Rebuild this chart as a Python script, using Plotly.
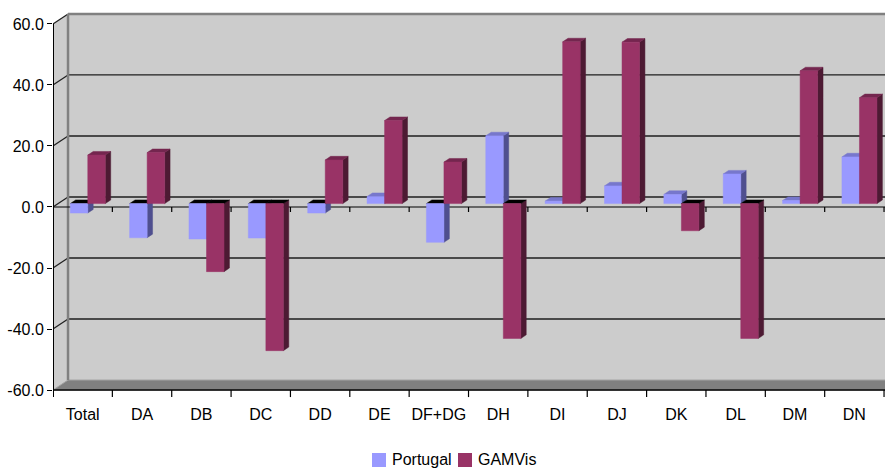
import plotly.graph_objects as go

# ---- data -------------------------------------------------------------
categories = ["Total", "DA", "DB", "DC", "DD", "DE", "DF+DG", "DH",
              "DI", "DJ", "DK", "DL", "DM", "DN"]
portugal = [-3.1, -11.2, -11.6, -11.3, -3.1, 2.3, -12.7, 22.2,
            0.8, 5.8, 3.0, 9.7, 1.0, 15.3]
gamvis = [15.9, 16.7, -22.3, -48.2, 14.3, 27.2, 13.6, -44.2,
          53.0, 52.9, -8.9, -44.2, 43.5, 34.7]
series_names = ["Portugal", "GAMVis"]
y_ticks = [-60, -40, -20, 0, 20, 40, 60]
y_tick_labels = [f"{t:.1f}" for t in y_ticks]

# ---- style ------------------------------------------------------------
FONT = "Liberation Sans, Arial, sans-serif"
FONT_SIZE = 15
front_col = ["#9999ff", "#993366"]
side_col = ["#4f4f8f", "#4d1a33"]
top_col = ["#7777cc", "#74264f"]
WALL = "#cccccc"
FLOOR = "#808080"

W, H = 885, 470
L_M, R_M, T_M, B_M = 53, 0, 12, 72
X0 = -0.5
X_SPAN = (W - L_M - R_M) / 59.36
Y_MIN, Y_MAX = -62.6, 63.9

# oblique projection: shift of the back wall along x (categories) and y (values)
WALL_DX = 0.253
WALL_DY = 3.28
BAR_D0, BAR_D1 = 0.34, 0.70   # depth of the bar front / back faces
BAR_W = 0.295                  # width of one bar in category units


def proj(x, y, d):
    return x + d * WALL_DX, y + d * WALL_DY


def flatten(polys):
    xs, ys = [], []
    for poly in polys:
        for (px, py) in poly + [poly[0]]:
            xs.append(px)
            ys.append(py)
        xs.append(None)
        ys.append(None)
    return xs, ys


def bar_faces(values, slot):
    front, side, top_up, top_down = [], [], [], []
    for i, v in enumerate(values):
        xl = i - BAR_W + slot * BAR_W
        xr = xl + BAR_W
        front.append([proj(xl, 0, BAR_D0), proj(xr, 0, BAR_D0),
                      proj(xr, v, BAR_D0), proj(xl, v, BAR_D0)])
        side.append([proj(xr, 0, BAR_D0), proj(xr, 0, BAR_D1),
                     proj(xr, v, BAR_D1), proj(xr, v, BAR_D0)])
        t = max(v, 0)
        top = [proj(xl, t, BAR_D0), proj(xr, t, BAR_D0),
               proj(xr, t, BAR_D1), proj(xl, t, BAR_D1)]
        (top_up if v >= 0 else top_down).append(top)
    return front, side, top_up, top_down


fig = go.Figure()


def add_poly(polys, color):
    if not polys:
        return
    xs, ys = flatten(polys)
    fig.add_trace(go.Scatter(x=xs, y=ys, mode="lines", fill="toself",
                             fillcolor=color, line=dict(color=color, width=0.5),
                             hoverinfo="skip", showlegend=False))


for slot, vals in enumerate([portugal, gamvis]):
    front, side, top_up, top_down = bar_faces(vals, slot)
    add_poly(side, side_col[slot])
    add_poly(top_up, top_col[slot])
    add_poly(top_down, "#000000")
    add_poly(front, front_col[slot])

# ---- walls, floor, grid ----------------------------------------------
n = len(categories)
x_end = X0 + n + 1
shapes = []
bx0, by_lo = proj(X0, -60, 1)
_, by_hi = proj(X0, 60, 1)
# back wall
shapes.append(dict(type="rect", xref="x", yref="y", x0=bx0, x1=x_end,
                   y0=by_lo, y1=by_hi, fillcolor=WALL, line=dict(width=0),
                   layer="below"))
# left wall
shapes.append(dict(type="path", xref="x", yref="y",
                   path=f"M{X0},{-60} L{bx0},{by_lo} L{bx0},{by_hi} L{X0},{60} Z",
                   fillcolor=WALL, line=dict(width=0), layer="below"))
# floor
shapes.append(dict(type="path", xref="x", yref="y",
                   path=f"M{X0},{-60} L{x_end},{-60} L{x_end},{by_lo} L{bx0},{by_lo} Z",
                   fillcolor=FLOOR, line=dict(color="#a0a0a0", width=1), layer="below"))
# back-wall grid lines and left-wall diagonals
for t in y_ticks:
    gx, gy = proj(X0, t, 1)
    if -60 < t < 60:
        shapes.append(dict(type="line", xref="x", yref="y", x0=gx, x1=x_end,
                           y0=gy, y1=gy, line=dict(color="#1e1e1e", width=1.4),
                           layer="below"))
    if t > -60:
        shapes.append(dict(type="line", xref="x", yref="y", x0=X0, x1=gx,
                           y0=t, y1=gy, line=dict(color="#1e1e1e", width=1.2),
                           layer="below"))
# wall borders
shapes.append(dict(type="line", xref="x", yref="y", x0=bx0, x1=bx0,
                   y0=by_lo, y1=by_hi, line=dict(color="#808080", width=2.5),
                   layer="below"))
shapes.append(dict(type="line", xref="x", yref="y", x0=bx0, x1=x_end,
                   y0=by_hi, y1=by_hi, line=dict(color="#808080", width=2.5),
                   layer="below"))
# front zero line with category ticks
tick0 = 5 / 3.05
tick1 = 7 / 3.05
shapes.append(dict(type="line", xref="x", yref="y", x0=X0, x1=x_end,
                   y0=0, y1=0, line=dict(color="black", width=1.2), layer="below"))
for b in range(n + 1):
    xb = X0 + b
    shapes.append(dict(type="line", xref="x", yref="y", x0=xb, x1=xb,
                       y0=0, y1=-tick0, line=dict(color="black", width=1.2),
                       layer="below"))
    shapes.append(dict(type="line", xref="x", yref="y", x0=xb, x1=xb,
                       y0=-60, y1=-60 - tick1, line=dict(color="black", width=1.2)))
# bottom category axis and left value axis
shapes.append(dict(type="line", xref="x", yref="y", x0=X0, x1=x_end,
                   y0=-60, y1=-60, line=dict(color="black", width=1.5)))
shapes.append(dict(type="line", xref="x", yref="y", x0=X0, x1=X0,
                   y0=-60 - tick1, y1=60, line=dict(color="black", width=2)))

# ---- legend (drawn in paper space) -------------------------------------
def px_to_paper(px, py):
    return ((px - L_M) / (W - L_M - R_M), (H - B_M - py) / (H - T_M - B_M))


annotations = []
legend_items = [(372, 391), (458, 477)]
for k, (sx, tx) in enumerate(legend_items):
    ax0, ay0 = px_to_paper(sx, 467)
    ax1, ay1 = px_to_paper(sx + 14, 453)
    shapes.append(dict(type="rect", xref="paper", yref="paper", x0=ax0, x1=ax1,
                       y0=ay0, y1=ay1, fillcolor=front_col[k], line=dict(width=0)))
    tx_p, ty_p = px_to_paper(tx - 1, 460)
    annotations.append(dict(xref="paper", yref="paper", x=tx_p, y=ty_p,
                            text=series_names[k], showarrow=False,
                            xanchor="left", yanchor="middle",
                            font=dict(family=FONT, size=FONT_SIZE + 1, color="black")))

fig.update_layout(
    width=W, height=H,
    margin=dict(l=L_M, r=R_M, t=T_M, b=B_M),
    paper_bgcolor="white", plot_bgcolor="white",
    showlegend=False,
    shapes=shapes, annotations=annotations,
    xaxis=dict(type="linear", range=[X0, X0 + X_SPAN], showgrid=False,
               zeroline=False, showline=False,
               tickvals=list(range(n)), ticktext=categories,
               ticks="outside", ticklen=2, tickcolor="rgba(0,0,0,0)",
               tickfont=dict(family=FONT, size=FONT_SIZE + 1, color="black")),
    yaxis=dict(range=[Y_MIN, Y_MAX], showgrid=False, zeroline=False,
               showline=False, tickvals=y_ticks, ticktext=y_tick_labels,
               ticks="outside", ticklen=5, tickcolor="black", tickwidth=1,
               tickfont=dict(family=FONT, size=FONT_SIZE + 1, color="black")),
)

fig.write_html("out.html")
